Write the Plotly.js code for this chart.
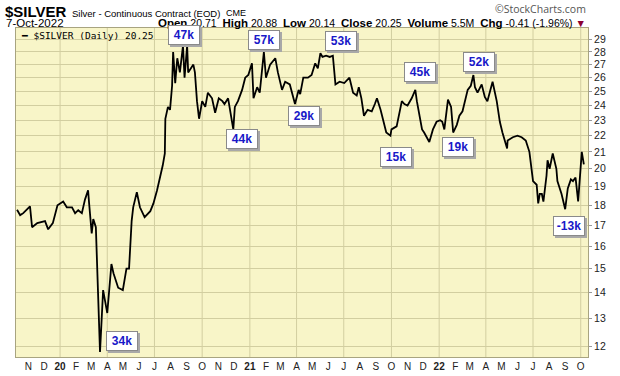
<!DOCTYPE html>
<html>
<head>
<meta charset="utf-8">
<script src="https://cdn.plot.ly/plotly-3.0.1.min.js"></script>
<style>html,body{margin:0;padding:0;background:#fff;}#chart{width:620px;height:376px;}</style>
</head>
<body>
<div id="chart"></div>
<script>
// ---- data ----
const dates = [
"2019-10-10","2019-10-16","2019-10-22","2019-11-04","2019-11-08","2019-11-18","2019-12-03","2019-12-09","2019-12-18","2019-12-27",
"2020-01-07","2020-01-14","2020-01-24","2020-01-30","2020-02-05","2020-02-12","2020-02-18","2020-02-24","2020-02-26","2020-03-02",
"2020-03-05","2020-03-10","2020-03-18","2020-03-24","2020-04-01","2020-04-09","2020-04-13","2020-04-22","2020-05-01","2020-05-08",
"2020-05-13","2020-05-18","2020-05-21","2020-05-28","2020-06-03","2020-06-12","2020-06-23","2020-06-29","2020-07-06","2020-07-13",
"2020-07-17","2020-07-21","2020-07-22","2020-07-27","2020-07-31","2020-08-04","2020-08-06","2020-08-10","2020-08-14","2020-08-19",
"2020-08-25","2020-08-28","2020-09-02","2020-09-04","2020-09-14","2020-09-17","2020-09-21","2020-09-25","2020-10-01","2020-10-07",
"2020-10-12","2020-10-20","2020-10-26","2020-11-02","2020-11-09","2020-11-13","2020-11-20","2020-11-30","2020-12-03","2020-12-09",
"2020-12-17","2020-12-23","2020-12-29","2021-01-05","2021-01-08","2021-01-15","2021-01-20","2021-01-28","2021-02-01","2021-02-09",
"2021-02-19","2021-02-24","2021-03-04","2021-03-10","2021-03-19","2021-03-29","2021-04-05","2021-04-08","2021-04-14","2021-04-23",
"2021-04-30","2021-05-07","2021-05-12","2021-05-17","2021-05-21","2021-05-28","2021-06-04","2021-06-10","2021-06-15","2021-06-23",
"2021-07-02","2021-07-12","2021-07-19","2021-07-26","2021-07-30","2021-08-04","2021-08-09","2021-08-16","2021-08-24","2021-08-30",
"2021-09-03","2021-09-10","2021-09-17","2021-09-21","2021-09-29","2021-10-01","2021-10-11","2021-10-15","2021-10-21","2021-10-26",
"2021-11-01","2021-11-09","2021-11-16","2021-11-19","2021-11-29","2021-12-03","2021-12-13","2021-12-20","2021-12-27","2022-01-03",
"2022-01-07","2022-01-11","2022-01-18","2022-01-24","2022-01-28","2022-02-04","2022-02-09","2022-02-15","2022-02-21","2022-02-25",
"2022-03-03","2022-03-08","2022-03-11","2022-03-16","2022-03-24","2022-03-30","2022-04-04","2022-04-14","2022-04-22","2022-04-28",
"2022-05-03","2022-05-12","2022-05-13","2022-05-23","2022-06-01","2022-06-09","2022-06-17","2022-06-24","2022-07-01","2022-07-08",
"2022-07-11","2022-07-14","2022-07-18","2022-07-21","2022-07-27","2022-07-29","2022-08-02","2022-08-08","2022-08-15","2022-08-17",
"2022-08-25","2022-09-01","2022-09-06","2022-09-12","2022-09-16","2022-09-21","2022-09-26","2022-09-29","2022-10-03","2022-10-07"
];
const prices = [
17.77,17.5,17.6,17.95,16.9,17.1,17.2,16.8,17.1,18.0,
18.2,17.9,17.9,17.6,17.75,17.6,18.3,18.8,18.1,16.6,
17.3,16.9,11.8,14.1,13.2,15.2,14.8,14.2,14.1,15.0,
15.0,17.2,17.9,18.7,17.9,17.4,17.7,18.1,18.8,19.6,
20.2,20.9,23.1,23.9,23.7,25.4,28.0,25.6,27.5,26.4,
28.5,26.0,28.5,26.4,27.0,26.4,24.3,23.1,24.3,23.9,
24.9,24.5,23.5,24.5,24.3,24.1,24.5,22.4,23.9,24.3,
25.1,26.0,26.2,27.1,24.5,25.3,24.9,28.0,26.0,27.0,
27.5,26.4,25.1,25.7,25.5,24.1,25.1,24.8,26.0,26.0,
26.2,27.1,26.7,27.9,27.6,27.7,27.6,27.7,25.5,25.7,
25.6,26.0,24.9,24.7,25.3,24.5,23.3,23.7,23.6,24.1,
24.5,23.7,22.7,22.2,22.0,22.4,22.6,23.3,24.3,24.1,
24.0,24.5,25.1,24.3,22.4,22.2,21.6,22.4,22.9,23.0,
22.9,22.4,24.4,23.9,22.2,22.7,23.3,23.6,24.4,25.1,
25.4,26.2,25.3,24.9,25.5,24.6,24.3,25.7,24.3,22.9,
22.2,21.2,21.7,21.9,22.0,21.9,21.7,21.0,19.3,19.1,
18.1,18.6,18.6,18.2,19.6,20.5,20.0,20.9,20.0,19.3,
18.6,17.8,18.9,19.4,19.3,19.5,18.2,19.3,21.0,20.25
];
// position labels (text boxes on the chart)
const labelText  = ["34k","47k","44k","57k","29k","53k","15k","45k","19k","52k","-13k"];
const labelDates = ["2020-04-29","2020-08-27","2020-12-16","2021-01-29","2021-04-16","2021-06-26","2021-10-10","2021-11-25","2022-02-07","2022-03-18","2022-09-09"];
const labelPrice = [12.17,29.4,21.8,29.0,23.3,28.9,20.7,26.4,21.3,27.2,16.95];
// axis ticks
const monthTickDates = ["2019-11-01","2019-12-01","2020-01-01","2020-02-01","2020-03-01","2020-04-01","2020-05-01","2020-06-01","2020-07-01","2020-08-01","2020-09-01","2020-10-01",
"2020-11-01","2020-12-01","2021-01-01","2021-02-01","2021-03-01","2021-04-01","2021-05-01","2021-06-01","2021-07-01","2021-08-01","2021-09-01","2021-10-01",
"2021-11-01","2021-12-01","2022-01-01","2022-02-01","2022-03-01","2022-04-01","2022-05-01","2022-06-01","2022-07-01","2022-08-01","2022-09-01","2022-10-01"];
const monthTickText = ["N","D","<b>20</b>","F","M","A","M","J","J","A","S","O",
"N","D","<b>21</b>","F","M","A","M","J","J","A","S","O",
"N","D","<b>22</b>","F","M","A","M","J","J","A","S","O"];
const gridDates = ["2020-01-01","2020-04-01","2020-07-01","2020-10-01","2021-01-01","2021-04-01","2021-07-01","2021-10-01","2022-01-01","2022-04-01","2022-07-01","2022-10-01"];
const priceTicks = [12,13,14,15,16,17,18,19,20,21,22,23,24,25,26,27,28,29];

const gridColor = '#d2cea0';
const trace = {
  x: dates, y: prices, type: 'scatter', mode: 'lines',
  line: {color: '#000000', width: 1.8}, showlegend: false, hoverinfo: 'skip'
};

const shapes = gridDates.map(d => ({
  type: 'line', xref: 'x', yref: 'paper', x0: d, x1: d, y0: 0, y1: 1,
  line: {color: gridColor, width: 1}, layer: 'below'
}));

const annotations = [];
// header
const P = (px) => (px - 16) / 572;
const PY = (py) => (357 - py) / 329;
annotations.push({xref:'paper', yref:'paper', x:P(3), y:PY(12), xanchor:'left', yanchor:'middle', showarrow:false,
  text:'<b>$SILVER</b>', font:{family:'Arial', size:15, color:'#000'}});
annotations.push({xref:'paper', yref:'paper', x:P(70), y:PY(13), xanchor:'left', yanchor:'middle', showarrow:false,
  text:'Silver - Continuous Contract (EOD)', font:{family:'Arial', size:9.5, color:'#000'}});
annotations.push({xref:'paper', yref:'paper', x:P(224), y:PY(13), xanchor:'left', yanchor:'middle', showarrow:false,
  text:'CME', font:{family:'Arial', size:9, color:'#000'}});
annotations.push({xref:'paper', yref:'paper', x:1, y:PY(9), xanchor:'right', yanchor:'middle', showarrow:false,
  text:'©StockCharts.com', font:{family:'Open Sans', size:10.5, color:'#555'}});
annotations.push({xref:'paper', yref:'paper', x:P(4), y:PY(23), xanchor:'left', yanchor:'middle', showarrow:false,
  text:'7-Oct-2022', font:{family:'Arial', size:11.5, color:'#000'}});
annotations.push({xref:'paper', yref:'paper', x:1, y:PY(23), xanchor:'right', yanchor:'middle', showarrow:false,
  text:'<b style="font-size:11.5px">Open</b> 20.71  <b style="font-size:11.5px">High</b> 20.88  <b style="font-size:11.5px">Low</b> 20.14  <b style="font-size:11.5px">Close</b> 20.25  <b style="font-size:11.5px">Volume</b> 5.5M  <b style="font-size:11.5px">Chg</b> -0.41 (-1.96%) <span style="color:#8b0030">▼</span>',
  font:{family:'Arial', size:10.5, color:'#000'}});
// legend
annotations.push({xref:'paper', yref:'paper', x:P(19), y:PY(35), xanchor:'left', yanchor:'middle', showarrow:false,
  text:'<b>━</b> $SILVER (Daily) 20.25', font:{family:'DejaVu Sans Mono', size:9.5, color:'#000'}});

// position boxes
labelText.forEach((t, i) => {
  const base = {xref:'x', yref:'y', x:labelDates[i], y:Math.log10(labelPrice[i]), xanchor:'center', yanchor:'middle',
    showarrow:false, width:26, height:14, borderpad:2, borderwidth:1, align:'center'};
  annotations.push(Object.assign({}, base, {text:t, xshift:2, yshift:-2, bgcolor:'#a8a8a8', bordercolor:'#a8a8a8',
    font:{family:'Arial', size:12, color:'rgba(0,0,0,0)'}}));
  annotations.push(Object.assign({}, base, {text:'<b>'+t+'</b>', bgcolor:'#ffffff', bordercolor:'#8a8a8a',
    font:{family:'Arial', size:12, color:'#1818c8'}}));
});

const layout = {
  width: 620, height: 376,
  margin: {l: 16, r: 32, t: 28, b: 19, pad: 0},
  paper_bgcolor: '#ffffff', plot_bgcolor: '#f8f5c8',
  xaxis: {
    type: 'date', range: ['2019-10-08', '2022-10-15'],
    tickmode: 'array', tickvals: monthTickDates, ticktext: monthTickText,
    showgrid: false, zeroline: false, ticks: '', ticklen: 0,
    tickfont: {family: 'Arial', size: 10, color: '#222'},
    showline: true, mirror: true, linecolor: '#a8a480', linewidth: 1
  },
  yaxis: {
    type: 'log', side: 'right',
    range: [Math.log10(11.63), Math.log10(30.0)],
    tickmode: 'array', tickvals: priceTicks, ticktext: priceTicks.map(String),
    showgrid: true, gridcolor: gridColor, gridwidth: 1, zeroline: false,
    ticks: 'outside', ticklen: 3, tickcolor: '#999',
    tickfont: {family: 'Arial', size: 10.5, color: '#222'},
    showline: true, mirror: true, linecolor: '#a8a480', linewidth: 1
  },
  shapes: shapes,
  annotations: annotations,
  showlegend: false
};

Plotly.newPlot('chart', [trace], layout, {staticPlot: true, displayModeBar: false});
</script>
</body>
</html>
